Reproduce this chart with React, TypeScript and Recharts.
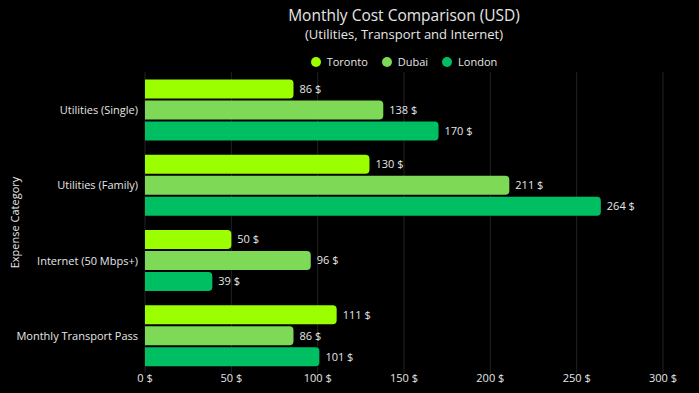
import React from "react";
import { BarChart, Bar, XAxis, YAxis, CartesianGrid, LabelList } from "recharts";

const categories = ["Utilities (Single)", "Utilities (Family)", "Internet (50 Mbps+)", "Monthly Transport Pass"];
const toronto = [86, 130, 50, 111];
const dubai = [138, 211, 96, 86];
const london = [170, 264, 39, 101];
const xTicks = [0, 50, 100, 150, 200, 250, 300];
const seriesNames = ["Toronto", "Dubai", "London"];
const seriesColors = ["#9BFF00", "#7ED957", "#00BF63"];

const data = categories.map((c, i) => ({
  category: c,
  Toronto: toronto[i],
  Dubai: dubai[i],
  London: london[i],
}));

const FONT = "'Open Sans', sans-serif";
const TEXT = "#e6e6e6";

const fmt = (v: any) => `${v} $`;

const YTick = (props: any) => {
  const { x, y, payload } = props;
  return (
    <text x={x} y={y} textAnchor="end" dominantBaseline="central" fill={TEXT} fontSize={11} fontFamily={FONT}>
      {payload.value}
    </text>
  );
};

const headerLeft = 145;
const headerWidth = 518;

export default function App() {
  return (
    <div style={{ position: "relative", width: 699, height: 393, background: "#000", fontFamily: FONT }}>
      <style>{"body{margin:0;background:#000;}"}</style>
      <div style={{ position: "absolute", top: 4, left: headerLeft, width: headerWidth, textAlign: "center", color: TEXT, fontSize: 15.5, lineHeight: "22px" }}>
        Monthly Cost Comparison (USD)
      </div>
      <div style={{ position: "absolute", top: 25, left: headerLeft, width: headerWidth, textAlign: "center", color: TEXT, fontSize: 13, lineHeight: "18px" }}>
        (Utilities, Transport and Internet)
      </div>
      <div style={{ position: "absolute", top: 54, left: headerLeft, width: headerWidth, display: "flex", justifyContent: "center", alignItems: "center", gap: 14, color: TEXT, fontSize: 11, lineHeight: "16px", zIndex: 2 }}>
        {seriesNames.map((n, i) => (
          <div key={n} style={{ display: "flex", alignItems: "center" }}>
            <span style={{ display: "inline-block", width: 10, height: 10, borderRadius: 5, background: seriesColors[i], marginRight: 6 }} />
            <span>{n}</span>
          </div>
        ))}
      </div>
      <BarChart
        width={699}
        height={393}
        data={data}
        layout="vertical"
        margin={{ top: 72, right: 36, bottom: 0, left: 0 }}
        barCategoryGap="10%"
        barGap={2}
      >
        <CartesianGrid horizontal={false} vertical={true} stroke="#222" />
        <XAxis
          type="number"
          domain={[0, 300]}
          ticks={xTicks}
          tickFormatter={fmt}
          axisLine={false}
          tickLine={false}
          tickSize={0}
          tickMargin={1}
          height={20}
          tick={{ fill: TEXT, fontSize: 11, fontFamily: FONT }}
        />
        <YAxis
          type="category"
          dataKey="category"
          width={145}
          axisLine={false}
          tickLine={false}
          tickSize={0}
          tickMargin={7}
          tick={<YTick />}
          label={{
            content: (props: any) => {
              const vb = props.viewBox || {};
              const cy = (vb.y || 0) + (vb.height || 0) / 2;
              return (
                <text
                  x={14}
                  y={cy}
                  transform={`rotate(-90, 14, ${cy})`}
                  textAnchor="middle"
                  dominantBaseline="central"
                  fill={TEXT}
                  fontSize={11}
                  fontFamily={FONT}
                >
                  Expense Category
                </text>
              );
            },
          }}
        />
        {seriesNames.map((n, i) => (
          <Bar key={n} dataKey={n} fill={seriesColors[i]} radius={[0, 4, 4, 0]} isAnimationActive={false}>
            <LabelList dataKey={n} position="right" offset={6} formatter={fmt} fill={TEXT} fontSize={11} fontFamily={FONT} />
          </Bar>
        ))}
      </BarChart>
    </div>
  );
}
